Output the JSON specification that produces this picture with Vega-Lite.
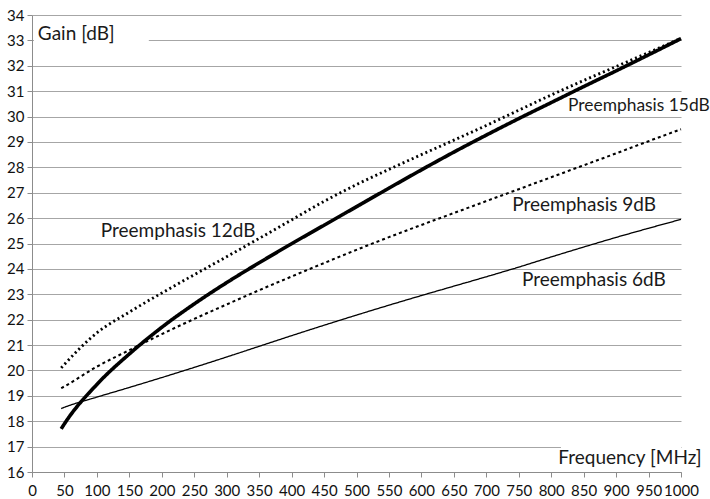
{
  "$schema": "https://vega.github.io/schema/vega-lite/v6.json",
  "autosize": {"type": "none"},
  "padding": {"left": 32, "top": 15, "right": 29, "bottom": 27},
  "width": 649,
  "height": 457,
  "background": "white",
  "config": {
    "view": {"stroke": null},
    "font": "Lato",
    "axis": {"labelFont": "Lato", "labelFontSize": 15, "labelColor": "#111", "gridColor": "#a6a6a6", "gridWidth": 1, "domainColor": "#8c8c8c", "tickColor": "#8c8c8c", "tickSize": 5, "title": null, "labelOverlap": false, "format": "d"}
  },
  "datasets": {
    "curves": [
      {"f": 45, "g": 17.7, "s": "15dB"}, {"f": 50, "g": 17.9, "s": "15dB"}, {"f": 100, "g": 19.45, "s": "15dB"}, {"f": 150, "g": 20.65, "s": "15dB"}, {"f": 200, "g": 21.7, "s": "15dB"}, {"f": 250, "g": 22.62, "s": "15dB"}, {"f": 300, "g": 23.46, "s": "15dB"}, {"f": 350, "g": 24.24, "s": "15dB"}, {"f": 400, "g": 24.99, "s": "15dB"}, {"f": 450, "g": 25.72, "s": "15dB"}, {"f": 500, "g": 26.45, "s": "15dB"}, {"f": 550, "g": 27.18, "s": "15dB"}, {"f": 600, "g": 27.9, "s": "15dB"}, {"f": 650, "g": 28.6, "s": "15dB"}, {"f": 700, "g": 29.27, "s": "15dB"}, {"f": 750, "g": 29.92, "s": "15dB"}, {"f": 800, "g": 30.55, "s": "15dB"}, {"f": 850, "g": 31.18, "s": "15dB"}, {"f": 900, "g": 31.8, "s": "15dB"}, {"f": 950, "g": 32.43, "s": "15dB"}, {"f": 1000, "g": 33.07, "s": "15dB"},
      {"f": 45, "g": 20.1, "s": "12dB"}, {"f": 50, "g": 20.24, "s": "12dB"}, {"f": 100, "g": 21.48, "s": "12dB"}, {"f": 150, "g": 22.3, "s": "12dB"}, {"f": 200, "g": 23.05, "s": "12dB"}, {"f": 250, "g": 23.77, "s": "12dB"}, {"f": 300, "g": 24.48, "s": "12dB"}, {"f": 350, "g": 25.2, "s": "12dB"}, {"f": 400, "g": 25.93, "s": "12dB"}, {"f": 450, "g": 26.66, "s": "12dB"}, {"f": 500, "g": 27.32, "s": "12dB"}, {"f": 550, "g": 27.92, "s": "12dB"}, {"f": 600, "g": 28.5, "s": "12dB"}, {"f": 650, "g": 29.07, "s": "12dB"}, {"f": 700, "g": 29.65, "s": "12dB"}, {"f": 750, "g": 30.25, "s": "12dB"}, {"f": 800, "g": 30.85, "s": "12dB"}, {"f": 850, "g": 31.42, "s": "12dB"}, {"f": 900, "g": 31.97, "s": "12dB"}, {"f": 950, "g": 32.52, "s": "12dB"}, {"f": 1000, "g": 33.08, "s": "12dB"},
      {"f": 45, "g": 19.3, "s": "9dB"}, {"f": 50, "g": 19.37, "s": "9dB"}, {"f": 100, "g": 20.15, "s": "9dB"}, {"f": 150, "g": 20.8, "s": "9dB"}, {"f": 200, "g": 21.43, "s": "9dB"}, {"f": 250, "g": 22.03, "s": "9dB"}, {"f": 300, "g": 22.6, "s": "9dB"}, {"f": 350, "g": 23.16, "s": "9dB"}, {"f": 400, "g": 23.7, "s": "9dB"}, {"f": 450, "g": 24.23, "s": "9dB"}, {"f": 500, "g": 24.75, "s": "9dB"}, {"f": 550, "g": 25.25, "s": "9dB"}, {"f": 600, "g": 25.73, "s": "9dB"}, {"f": 650, "g": 26.2, "s": "9dB"}, {"f": 700, "g": 26.67, "s": "9dB"}, {"f": 750, "g": 27.14, "s": "9dB"}, {"f": 800, "g": 27.61, "s": "9dB"}, {"f": 850, "g": 28.08, "s": "9dB"}, {"f": 900, "g": 28.55, "s": "9dB"}, {"f": 950, "g": 29.03, "s": "9dB"}, {"f": 1000, "g": 29.5, "s": "9dB"},
      {"f": 45, "g": 18.5, "s": "6dB"}, {"f": 50, "g": 18.55, "s": "6dB"}, {"f": 100, "g": 18.95, "s": "6dB"}, {"f": 150, "g": 19.33, "s": "6dB"}, {"f": 200, "g": 19.72, "s": "6dB"}, {"f": 250, "g": 20.12, "s": "6dB"}, {"f": 300, "g": 20.53, "s": "6dB"}, {"f": 350, "g": 20.95, "s": "6dB"}, {"f": 400, "g": 21.37, "s": "6dB"}, {"f": 450, "g": 21.78, "s": "6dB"}, {"f": 500, "g": 22.18, "s": "6dB"}, {"f": 550, "g": 22.57, "s": "6dB"}, {"f": 600, "g": 22.95, "s": "6dB"}, {"f": 650, "g": 23.32, "s": "6dB"}, {"f": 700, "g": 23.69, "s": "6dB"}, {"f": 750, "g": 24.07, "s": "6dB"}, {"f": 800, "g": 24.47, "s": "6dB"}, {"f": 850, "g": 24.86, "s": "6dB"}, {"f": 900, "g": 25.24, "s": "6dB"}, {"f": 950, "g": 25.6, "s": "6dB"}, {"f": 1000, "g": 25.95, "s": "6dB"}
    ],
    "labels": [
      {"f": 9, "g": 33.0, "text": "Gain [dB]"},
      {"f": 106, "g": 25.26, "text": "Preemphasis 12dB"},
      {"f": 740, "g": 26.29, "text": "Preemphasis  9dB"},
      {"f": 755, "g": 23.33, "text": "Preemphasis 6dB"},
      {"f": 811, "g": 16.32, "text": "Frequency [MHz]"}
    ],
    "labelsSmall": [
      {"f": 826, "g": 30.22, "text": "Preemphasis 15dB"}
    ],
    "boxes": [
      {"f": 3, "f2": 180, "g": 32.6, "g2": 33.6},
      {"f": 815, "f2": 1000, "g": 16.1, "g2": 17.5}
    ]
  },
  "encoding": {
    "x": {"field": "f", "type": "quantitative", "scale": {"domain": [0, 1000], "nice": false},
          "axis": {"values": [0,50,100,150,200,250,300,350,400,450,500,550,600,650,700,750,800,850,900,950,1000], "grid": false, "labelPadding": 6, "labelFlush": false, "labelOverlap": false, "format": "d"}},
    "y": {"field": "g", "type": "quantitative", "scale": {"domain": [16, 34], "nice": false, "zero": false},
          "axis": {"values": [16,17,18,19,20,21,22,23,24,25,26,27,28,29,30,31,32,33,34], "grid": true, "labelPadding": 3, "labelOverlap": false, "format": "d"}}
  },
  "layer": [
    {
      "data": {"name": "boxes"},
      "mark": {"type": "rect", "fill": "white"},
      "encoding": {
        "x2": {"field": "f2"},
        "y2": {"field": "g2"}
      }
    },
    {
      "data": {"name": "curves"},
      "mark": {"type": "line", "color": "black", "interpolate": "monotone"},
      "encoding": {
        "detail": {"field": "s"},
        "strokeWidth": {"field": "s", "type": "nominal", "scale": {"domain": ["15dB", "12dB", "9dB", "6dB"], "range": [3.6, 1.3, 1.6, 1.2]}, "legend": null},
        "strokeDash": {"field": "s", "type": "nominal", "scale": {"domain": ["15dB", "12dB", "9dB", "6dB"], "range": [[1, 0], [2, 3], [3, 3], [1, 0]]}, "legend": null}
      }
    },
    {
      "data": {"name": "labels"},
      "mark": {"type": "text", "align": "left", "baseline": "alphabetic", "font": "Lato", "fontSize": 19, "color": "#1a1a1a"},
      "encoding": {
        "text": {"field": "text"}
      }
    },
    {
      "data": {"name": "labelsSmall"},
      "mark": {"type": "text", "align": "left", "baseline": "alphabetic", "font": "Lato", "fontSize": 17.4, "color": "#1a1a1a"},
      "encoding": {
        "text": {"field": "text"}
      }
    }
  ]
}
